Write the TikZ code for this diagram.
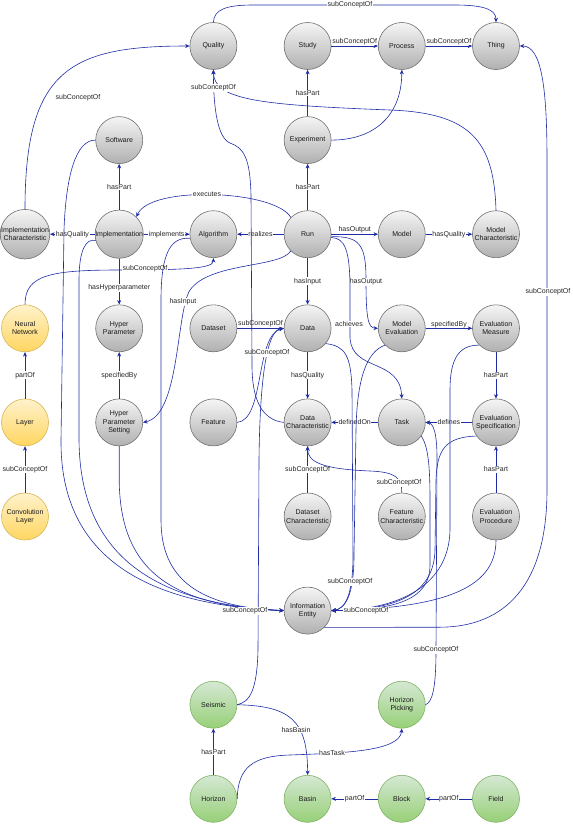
\documentclass[tikz,border=0pt]{standalone}
\usepackage{fontspec}
\setmainfont{Liberation Sans}
\usetikzlibrary{arrows.meta}
\definecolor{edgeblue}{RGB}{30,45,165}
\definecolor{gtop}{RGB}{245,245,245}
\definecolor{gbot}{RGB}{176,176,176}
\definecolor{gline}{RGB}{112,112,112}
\definecolor{ytop}{RGB}{255,242,204}
\definecolor{ybot}{RGB}{255,214,96}
\definecolor{yline}{RGB}{214,182,86}
\definecolor{ntop}{RGB}{213,232,212}
\definecolor{nbot}{RGB}{151,208,119}
\definecolor{nline}{RGB}{130,179,102}
\begin{document}
\begin{tikzpicture}[x=1pt,y=-1pt,
  concept/.style={circle, minimum size=47pt, inner sep=0pt, align=center,
    font=\fontsize{7}{8.3}\selectfont, text=black!90, line width=0.6pt},
  grayc/.style={concept, draw=gline, top color=gtop, bottom color=gbot},
  yellowc/.style={concept, draw=yline, top color=ytop, bottom color=ybot},
  greenc/.style={concept, draw=nline, top color=ntop, bottom color=nbot},
  con/.style={draw=edgeblue, line width=0.6pt, -{Stealth[length=4.5pt,width=4pt]}},
  lbl/.style={fill=white, inner sep=0.6pt, font=\fontsize{7}{8.3}\selectfont, text=black!85},
]
\useasboundingbox (0,0) rectangle (573,825);

% nodes
\node[grayc] (quality) at (213.4,46) {Quality};
\node[grayc] (study) at (307.6,46) {Study};
\node[grayc] (process) at (401.8,46) {Process};
\node[grayc] (thing) at (496,46) {Thing};
\node[grayc] (software) at (119.2,140.1) {Software};
\node[grayc] (experiment) at (307.6,140.1) {Experiment};
\node[grayc] (implchar) at (25,234.2) {Implementation\\Characteristic};
\node[grayc] (impl) at (119.2,234.2) {Implementation};
\node[grayc] (algorithm) at (213.4,234.2) {Algorithm};
\node[grayc] (run) at (307.6,234.2) {Run};
\node[grayc] (model) at (401.8,234.2) {Model};
\node[grayc] (modelchar) at (496,234.2) {Model\\Characteristic};
\node[yellowc] (neural) at (25,328.3) {Neural\\Network};
\node[grayc] (hyper) at (119.2,328.3) {Hyper\\Parameter};
\node[grayc] (dataset) at (213.4,328.3) {Dataset};
\node[grayc] (data) at (307.6,328.3) {Data};
\node[grayc] (modeleval) at (401.8,328.3) {Model\\Evaluation};
\node[grayc] (evalmeasure) at (496,328.3) {Evaluation\\Measure};
\node[yellowc] (layer) at (25,422.4) {Layer};
\node[grayc] (hps) at (119.2,422.4) {Hyper\\Parameter\\Setting};
\node[grayc] (feature) at (213.4,422.4) {Feature};
\node[grayc] (datachar) at (307.6,422.4) {Data\\Characteristic};
\node[grayc] (task) at (401.8,422.4) {Task};
\node[grayc] (evalspec) at (496,422.4) {Evaluation\\Specification};
\node[yellowc] (convlayer) at (25,516.5) {Convolution\\Layer};
\node[grayc] (datasetchar) at (307.6,516.5) {Dataset\\Characteristic};
\node[grayc] (featurechar) at (401.8,516.5) {Feature\\Characteristic};
\node[grayc] (evalproc) at (496,516.5) {Evaluation\\Procedure};
\node[grayc] (infoentity) at (307.6,610.6) {Information\\Entity};
\node[greenc] (seismic) at (213.4,704.7) {Seismic};
\node[greenc] (hpick) at (401.8,704.7) {Horizon\\Picking};
\node[greenc] (horizon) at (213.4,798.8) {Horizon};
\node[greenc] (basin) at (307.6,798.8) {Basin};
\node[greenc] (block) at (401.8,798.8) {Block};
\node[greenc] (field) at (496,798.8) {Field};

% top row
\draw[con] (quality.north) .. controls (214,10) and (225,5) .. (253,5) -- (455,5) .. controls (485,5) and (496,10) .. (thing.north) node[lbl] at (350,5) {subConceptOf};
\draw[con] (study) -- (process) node[lbl,midway,yshift=4.5pt] {subConceptOf};
\draw[con] (process) -- (thing) node[lbl,midway,yshift=4.5pt] {subConceptOf};
\draw[con] (experiment) -- (study) node[lbl,midway] {hasPart};
\draw[con] (experiment.east) .. controls (375,140) and (401.8,115) .. (process.south);
\draw[con] (run) -- (experiment) node[lbl,midway] {hasPart};
\draw[con] (modelchar.north) .. controls (494,140) and (470,113) .. (390,110) .. controls (260,105) and (214,100) .. (quality.south);
\draw[con] (implchar.north) .. controls (25,70) and (70,46) .. (quality.west) node[lbl] at (78,98) {subConceptOf};

% implementation row
\draw[con] (impl) -- (implchar) node[lbl,midway] {hasQuality};
\draw[con] (impl) -- (software) node[lbl,midway] {hasPart};
\draw[con] (impl) -- (algorithm) node[lbl,midway] {implements};
\draw[con] (run) -- (algorithm) node[lbl,midway] {realizes};
\draw[con] (run.135) .. controls (275,190) and (150,185) .. (impl.45) node[lbl] at (207,194) {executes};
\draw[con] (run) -- (model) node[lbl,midway,yshift=4.5pt] {hasOutput};
\draw[con] (model) -- (modelchar) node[lbl,midway] {hasQuality};
\draw[con] (run.-6) .. controls (360,236) and (366,245) .. (366,280) .. controls (366,318) and (368,328) .. (modeleval.west) node[lbl] at (366,282) {hasOutput};
\draw[con] (run.-8) .. controls (345,238) and (350,250) .. (350,290) -- (350,338) .. controls (352,372) and (400,358) .. (task.north) node[lbl] at (349,324) {achieves};
\draw[con] (run) -- (data) node[lbl,midway] {hasInput};
\draw[con] (run.225) .. controls (280,268) and (210,262) .. (190,290) .. controls (176,312) and (180,415) .. (hps.east) node[lbl] at (183,302) {hasInput};
\draw[con] (neural.north) .. controls (25,275) and (50,270) .. (120,270) .. controls (190,270) and (213.4,268) .. (algorithm.south) node[lbl] at (145,269) {subConceptOf};
\draw[con] (impl) -- (hyper) node[lbl] at (119.2,288) {hasHyperparameter};
\draw[con] (hps) -- (hyper) node[lbl,midway] {specifiedBy};
\draw[con] (layer) -- (neural) node[lbl,midway] {partOf};
\draw[con] (convlayer) -- (layer) node[lbl,midway] {subConceptOf};

% data block
\draw[con] (dataset) -- (data) node[lbl,midway,yshift=4.5pt] {subConceptOf};
\draw[con] (feature.east) .. controls (265,420) and (255,335) .. (data.west);
\draw[con] (seismic.east) .. controls (250,702) and (257,690) .. (258,650) -- (259,460) .. controls (260,370) and (268,330) .. (data.west) node[lbl] at (267,353) {subConceptOf};
\draw[con] (datachar.west) .. controls (262,420) and (252,400) .. (252,365) -- (251,195) .. controls (250,158) and (244,148) .. (230,143) .. controls (218,138) and (213.4,110) .. (quality.south) node[lbl] at (213.4,88) {subConceptOf};
\draw[con] (data) -- (datachar) node[lbl,midway] {hasQuality};
\draw[con] (modeleval) -- (evalmeasure) node[lbl,midway,yshift=4pt] {specifiedBy};
\draw[con] (evalmeasure) -- (evalspec) node[lbl,midway] {hasPart};
\draw[con] (evalproc) -- (evalspec) node[lbl,midway] {hasPart};
\draw[con] (evalspec) -- (task) node[lbl,midway] {defines};
\draw[con] (task) -- (datachar) node[lbl,midway] {definedOn};
\draw[con] (datasetchar) -- (datachar) node[lbl,midway] {subConceptOf};
\draw[con] (featurechar.north) .. controls (401.8,478) and (396,472) .. (370,471) .. controls (322,469) and (307.6,462) .. (datachar.south) node[lbl] at (399,483) {subConceptOf};

% green block
\draw[con] (horizon) -- (seismic) node[lbl,midway] {hasPart};
\draw[con] (seismic.east) .. controls (290,706) and (307.6,720) .. (basin.north) node[lbl] at (296,730) {hasBasin};
\draw[con] (horizon.east) .. controls (238,768) and (252,756) .. (290,755) .. controls (340,753) and (400,752) .. (hpick.south) node[lbl] at (332,753) {hasTask};
\draw[con] (block) -- (basin) node[lbl,midway] {partOf};
\draw[con] (field) -- (block) node[lbl,midway] {partOf};
\draw[con] (hpick.east) .. controls (432,702) and (436,690) .. (436,650) -- (437,458) .. controls (437,432) and (433,423) .. (task.east) node[lbl] at (436,650) {subConceptOf};

% information entity
\draw[con] (infoentity.-45) -- (440,627.2) .. controls (505,627) and (547,585) .. (547,490) -- (547,160) .. controls (547,90) and (542,46) .. (thing.east) node[lbl] at (548,292) {subConceptOf};
\draw[con] (software.west) .. controls (76,140) and (66,175) .. (64,230) -- (61,440) .. controls (60,560) and (150,605) .. (infoentity.west);
\draw[con] (impl.195) .. controls (86,238) and (79,250) .. (79,280) -- (79,440) .. controls (80,560) and (160,604) .. (infoentity.west);
\draw[con] (hps.south) -- (119.2,480) .. controls (120,570) and (170,606) .. (infoentity.west);
\draw[con] (algorithm.190) .. controls (172,237) and (161,250) .. (161,300) -- (161,520) .. controls (161,580) and (200,607) .. (infoentity.west) node[lbl] at (245,611) {subConceptOf};
\draw[con] (data.-40) .. controls (345,346) and (351,355) .. (352,390) -- (353,555) .. controls (353,596) and (345,609) .. (infoentity.east);
\draw[con] (modeleval.225) .. controls (366,352) and (357,380) .. (356,430) -- (354,555) .. controls (354,596) and (345,609) .. (infoentity.east) node[lbl] at (350,582) {subConceptOf};
\draw[con] (task.-35) .. controls (428,446) and (430,465) .. (430,500) -- (430,565) .. controls (430,600) and (395,610) .. (infoentity.east);
\draw[con] (evalmeasure.225) .. controls (458,345) and (450,360) .. (450,390) -- (450,530) .. controls (449,585) and (400,610) .. (infoentity.east);
\draw[con] (evalspec.215) .. controls (445,437) and (437,450) .. (436,480) -- (435,550) .. controls (434,592) and (400,610) .. (infoentity.east);
\draw[con] (evalproc.south) .. controls (496,590) and (440,608) .. (infoentity.east) node[lbl] at (366,611) {subConceptOf};
\end{tikzpicture}
\end{document}
